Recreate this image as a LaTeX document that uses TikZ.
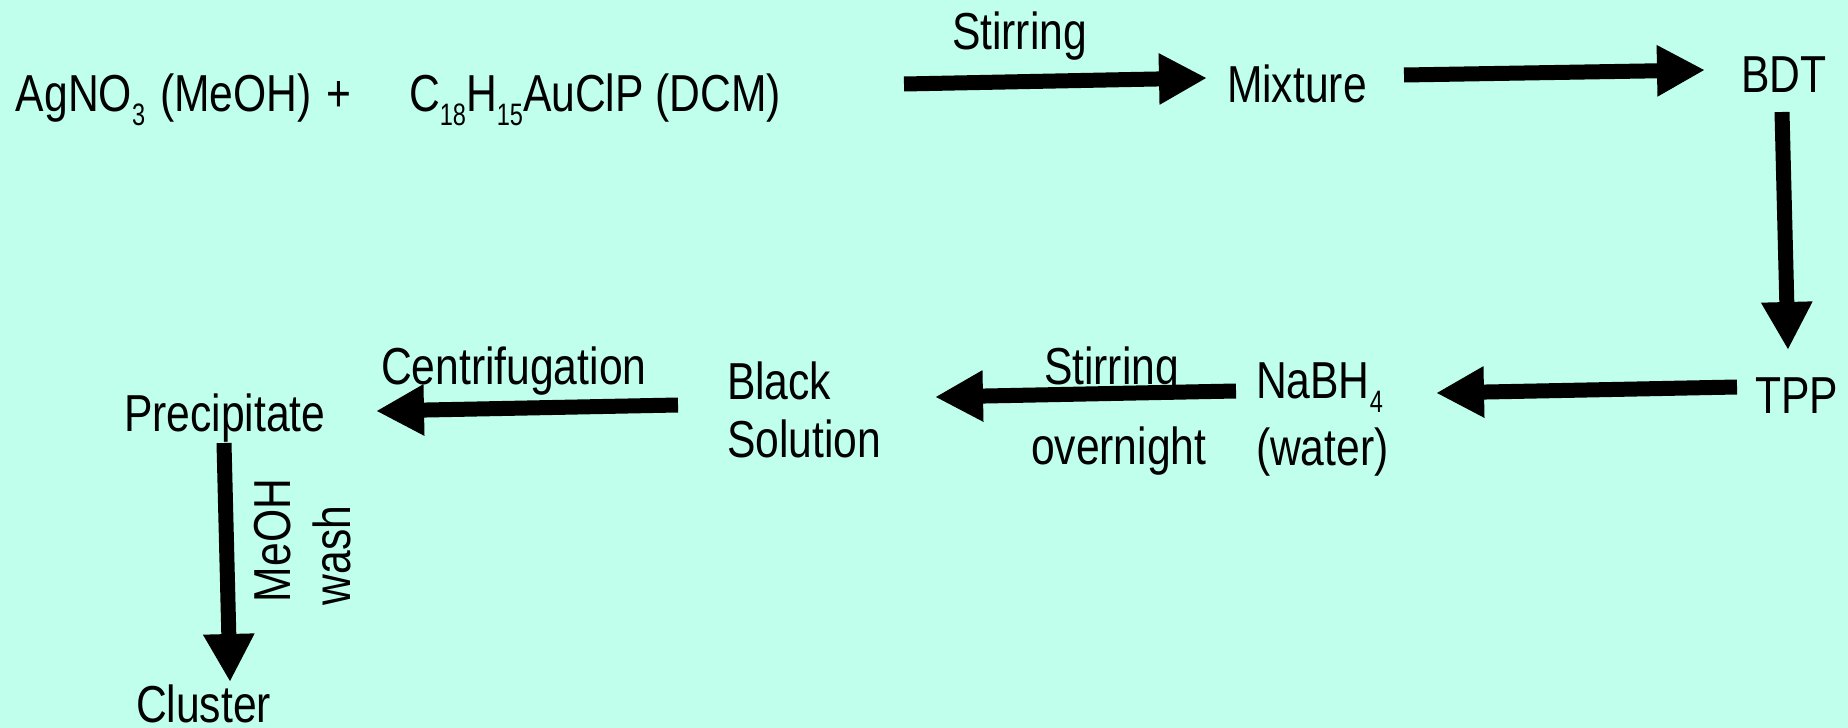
\documentclass[tikz,border=0pt]{standalone}
\usepackage{fontspec}
\usetikzlibrary{arrows.meta}
\newfontfamily\nf[FakeStretch=0.82]{Liberation Sans}
\newfontfamily\sbf[FakeStretch=0.76]{Liberation Sans}
\definecolor{bgaqua}{RGB}{191,255,236}
\newcommand\sbs[1]{\raisebox{-14pt}{\sbf\fontsize{31}{31}\selectfont #1}}
\tikzset{
  lbl/.style={anchor=base west, inner sep=0pt, outer sep=0pt, font=\nf\fontsize{52}{60}\selectfont},
  bigarrow/.style={line width=15pt, -{Triangle[length=48pt,width=48pt]}}
}
\begin{document}
\begin{tikzpicture}[x=1pt,y=-1pt]
\fill[bgaqua] (0,0) rectangle (1848,728);
\useasboundingbox (0,0) rectangle (1848,728);
% texts
\node[lbl] (ag) at (16,111) {AgNO\sbs{3}\hspace{15pt}(MeOH)\hspace{15pt}+};
\node[lbl] (au) at (409,111) {C\sbs{18}H\sbs{15}AuClP (DCM)};
\node[lbl] (stira) at (952,49) {Stirring};
\node[lbl] (mix) at (1227,102) {Mixture};
\node[lbl] (bdt) at (1741,92) {BDT};
\node[lbl] (tpp) at (1755,413) {TPP};
\node[lbl] (nabh) at (1256,398) {NaBH\sbs{4}};
\node[lbl] (water) at (1256,465) {(water)};
\node[lbl] (stirb) at (1044,384) {Stirring};
\node[lbl] (over) at (1031,464) {overnight};
\node[lbl] (black) at (727,399) {Black};
\node[lbl] (sol) at (727,457) {Solution};
\node[lbl] (cen) at (381,384) {Centrifugation};
\node[lbl] (pre) at (124,431) {Precipitate};
\node[lbl] (clu) at (136,722) {Cluster};
\node[lbl, rotate=90] (meoh) at (290,602) {MeOH};
\node[lbl, rotate=90] (wash) at (350,605) {wash};
% arrow end points
\coordinate (a1s) at (904,84);  \coordinate (a1e) at (1207,78);
\coordinate (a2s) at (1404,75); \coordinate (a2e) at (1705,70);
\coordinate (a3s) at (1782,112); \coordinate (a3e) at (1788,350);
\coordinate (a4s) at (1737,387); \coordinate (a4e) at (1436,393);
\coordinate (a5s) at (1236,391); \coordinate (a5e) at (935,397);
\coordinate (a6s) at (678,405); \coordinate (a6e) at (376,411);
\coordinate (a7s) at (224,443); \coordinate (a7e) at (230,682);
\draw[bigarrow] (a1s) -- (a1e);
\draw[bigarrow] (a2s) -- (a2e);
\draw[bigarrow] (a3s) -- (a3e);
\draw[bigarrow] (a4s) -- (a4e);
\draw[bigarrow] (a5s) -- (a5e);
\draw[bigarrow] (a6s) -- (a6e);
\draw[bigarrow] (a7s) -- (a7e);
\end{tikzpicture}
\end{document}
